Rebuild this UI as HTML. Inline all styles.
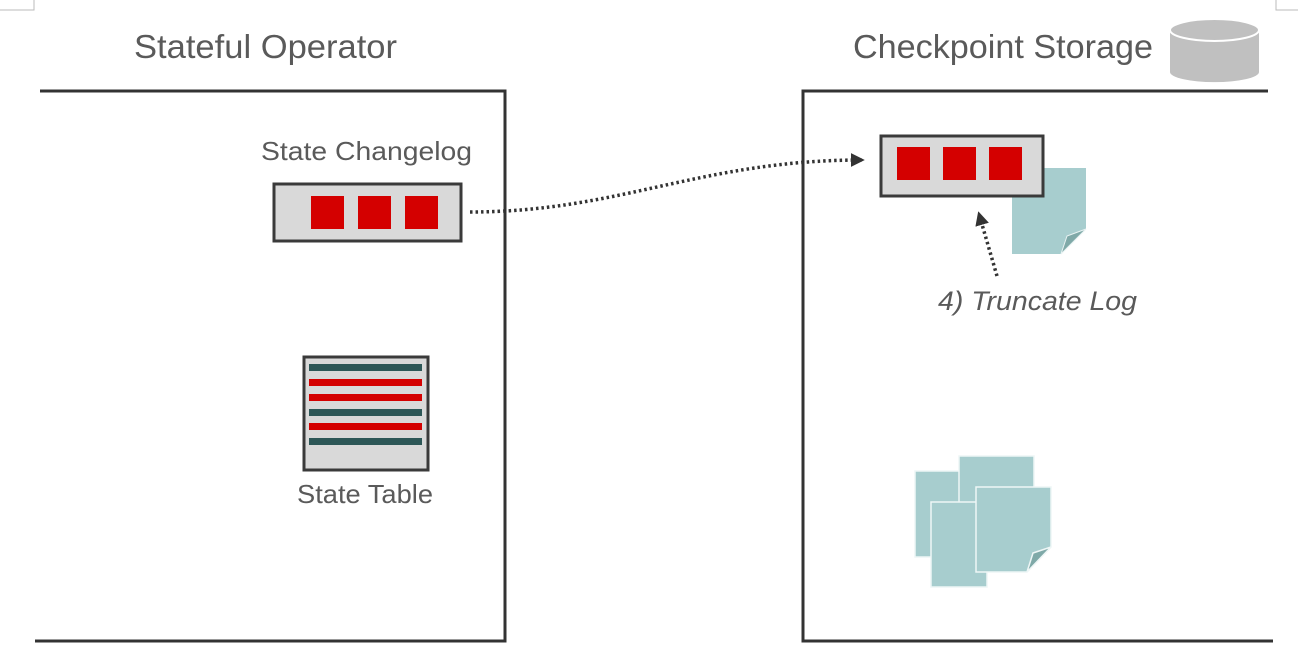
<!DOCTYPE html>
<html><head><meta charset="utf-8"><style>
html,body{margin:0;padding:0;background:#fff;}
svg{display:block;}
text{font-family:"Liberation Sans",sans-serif;fill:#5a5a5a;}
</style></head><body>
<svg width="1298" height="654" viewBox="0 0 1298 654">
<defs>
<marker id="ah" viewBox="0 0 10 10" refX="8" refY="5" markerWidth="4" markerHeight="4" orient="auto"><path d="M0,0L10,5L0,10z" fill="#333"/></marker>
</defs>
<path d="M0,10H34V0" fill="none" stroke="#bbb" stroke-width="1"/>
<path d="M1276,0V10H1298" fill="none" stroke="#bbb" stroke-width="1"/>

<text x="134" y="58" font-size="33" textLength="263" lengthAdjust="spacingAndGlyphs">Stateful Operator</text>
<path d="M40,91H505V641H35" fill="none" stroke="#333" stroke-width="3"/>

<text x="261" y="160" font-size="26" textLength="211" lengthAdjust="spacingAndGlyphs">State Changelog</text>
<g>
<rect x="274" y="184" width="187" height="57" fill="#d9d9d9" stroke="#3a3a3a" stroke-width="3"/>
<rect x="311" y="196" width="33" height="33" fill="#d40000"/>
<rect x="358" y="196" width="33" height="33" fill="#d40000"/>
<rect x="405" y="196" width="33" height="33" fill="#d40000"/>
</g>

<g>
<rect x="304" y="357" width="124" height="113" fill="#d9d9d9" stroke="#3a3a3a" stroke-width="3"/>
<rect x="309" y="364" width="113" height="7" fill="#2d5757"/>
<rect x="309" y="379" width="113" height="7" fill="#d40000"/>
<rect x="309" y="394" width="113" height="7" fill="#d40000"/>
<rect x="309" y="409" width="113" height="7" fill="#2d5757"/>
<rect x="309" y="423" width="113" height="7" fill="#d40000"/>
<rect x="309" y="438" width="113" height="7" fill="#2d5757"/>
</g>
<text x="297" y="503" font-size="26" textLength="136" lengthAdjust="spacingAndGlyphs">State Table</text>

<text x="853" y="58" font-size="33" textLength="300" lengthAdjust="spacingAndGlyphs">Checkpoint Storage</text>
<g>
<path d="M1170,30V72A44,10 0 0 0 1259,72V30Z" fill="#c0c0c0"/>
<ellipse cx="1214.5" cy="30" rx="44.5" ry="11" fill="#c0c0c0" stroke="#fff" stroke-width="2"/>
</g>
<path d="M1268,91H803V641H1273" fill="none" stroke="#333" stroke-width="3"/>

<g>
<path d="M1012,168H1086V229L1061,254H1012Z" fill="#a7cdce"/>
<path d="M1086,229L1061,254L1067,236Z" fill="#7fa9a8" stroke="#e8f2f2" stroke-width="1"/>
</g>
<g>
<rect x="881" y="136" width="162" height="60" fill="#d9d9d9" stroke="#3a3a3a" stroke-width="3"/>
<rect x="897" y="147" width="33" height="33" fill="#d40000"/>
<rect x="943" y="147" width="33" height="33" fill="#d40000"/>
<rect x="989" y="147" width="33" height="33" fill="#d40000"/>
</g>

<path d="M470,212C620,212 700,160 862,160" fill="none" stroke="#333" stroke-width="3.5" stroke-dasharray="2.5,3" marker-end="url(#ah)"/>
<path d="M997,276L979,214" fill="none" stroke="#333" stroke-width="3.5" stroke-dasharray="2.5,3" marker-end="url(#ah)"/>
<text x="938" y="310" font-size="27" font-style="italic" textLength="199" lengthAdjust="spacingAndGlyphs">4) Truncate Log</text>

<g stroke="#eef6f6" stroke-width="1.5">
<rect x="915" y="471" width="46" height="86" fill="#a7cdce"/>
<rect x="959" y="456" width="75" height="85" fill="#a7cdce"/>
<path d="M931,502H987V587H931Z" fill="#a7cdce"/>
<path d="M976,487H1051V547L1027,572H976Z" fill="#a7cdce"/>
<path d="M1051,547L1027,572L1033,553Z" fill="#7fa9a8"/>
</g>
</svg>
</body></html>
